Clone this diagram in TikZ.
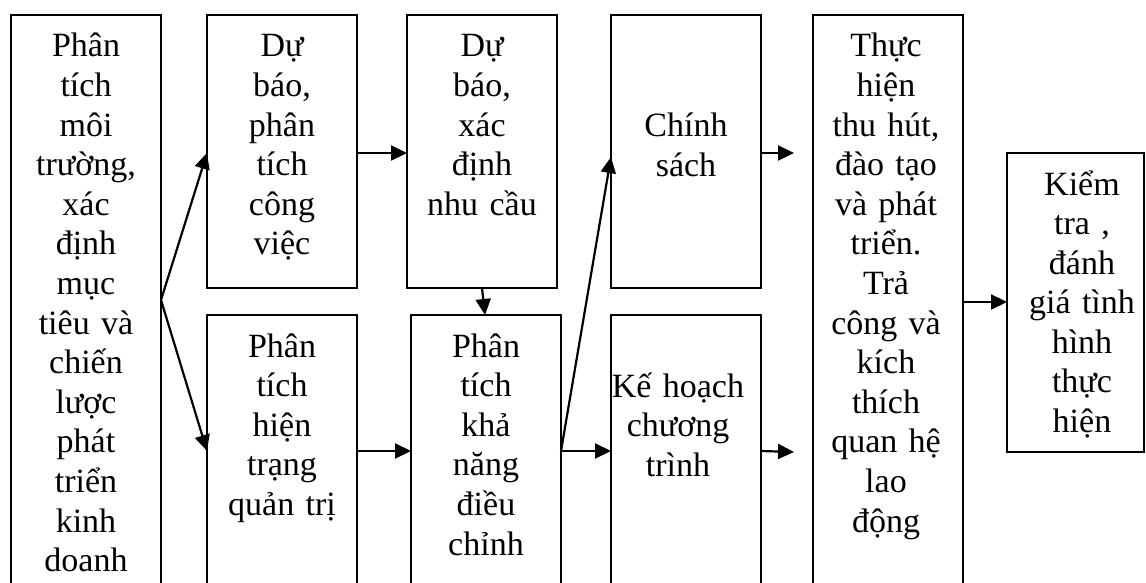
\documentclass[tikz,border=0pt]{standalone}
\usepackage{fontspec}
\setmainfont{Liberation Serif}
\usetikzlibrary{arrows.meta}
\begin{document}
\begin{tikzpicture}[x=1pt,y=-1pt,
  box/.style={draw,line width=2pt,minimum width=150pt,inner sep=0pt,outer sep=0pt},
  txt/.style={anchor=base,text width=160pt,align=center,inner sep=0pt,
    font=\fontsize{34}{39.6}\selectfont},
  arr/.style={line width=2.2pt,-{Triangle[length=16pt,width=15pt]}}]
\useasboundingbox (0,0) rectangle (1146,583);
\fill[white] (0,0) rectangle (1146,583);
\clip (0,0) rectangle (1146,583);
% boxes
\node[box,minimum height=625pt] (b1) at (86,327.5) {};
\node[box,minimum height=273pt] (b2) at (282,151.5) {};
\node[box,minimum height=325pt] (b3) at (282,477.5) {};
\node[box,minimum height=273pt] (b4) at (482,151.5) {};
\node[box,minimum height=325pt] (b5) at (486,477.5) {};
\node[box,minimum height=273pt] (b6) at (686,151.5) {};
\node[box,minimum height=325pt] (b7) at (686,477.5) {};
\node[box,minimum height=625pt] (b8) at (888,327.5) {};
\node[box,minimum width=137pt,minimum height=299pt] (b9) at (1075.5,302.5) {};
% texts
\node[txt] (t1) at (86,57) {Phân\\tích\\môi\\trường,\\xác\\định\\mục\\tiêu và\\chiến\\lược\\phát\\triển\\kinh\\doanh};
\node[txt] (t2) at (282,57) {Dự\\báo,\\phân\\tích\\công\\việc};
\node[txt] (t3) at (282,357) {Phân\\tích\\hiện\\trạng\\quản trị};
\node[txt] (t4) at (482,57) {Dự\\báo,\\xác\\định\\nhu cầu};
\node[txt] (t5) at (486,357) {Phân\\tích\\khả\\năng\\điều\\chỉnh};
\node[txt] (t6) at (686,137) {Chính\\sách};
\node[txt] (t7) at (678,397) {Kế hoạch\\chương\\trình};
\node[txt] (t8) at (886,57) {Thực\\hiện\\thu hút,\\đào tạo\\và phát\\triển.\\Trả\\công và\\kích\\thích\\quan hệ\\lao\\động};
\node[txt] (t9) at (1082,195) {Kiểm\\tra ,\\đánh\\giá tình\\hình\\thực\\hiện};
% helper levels
\coordinate (yA) at (0,153);
\coordinate (yB) at (0,451);
\coordinate (yF) at (0,300);
\coordinate (yG) at (0,157);
\coordinate (yH) at (0,302);
\coordinate (e6) at (794,153);
\coordinate (e7) at (794,452);
\coordinate (d4) at (482,288);
\coordinate (d5) at (485,315);
% connectors
\draw[arr] (b1.east |- yF) -- (b2.west |- yA);
\draw[arr] (b1.east |- yF) -- (b3.west |- yB);
\draw[arr] (b2.east |- yA) -- (b4.west |- yA);
\draw[arr] (b3.east |- yB) -- (b5.west |- yB);
\draw[arr] (d4) -- (d5);
\draw[arr] (b5.east |- yB) -- (b6.west |- yG);
\draw[arr] (b5.east |- yB) -- (b7.west |- yB);
\draw[arr] (b6.east |- yA) -- (e6);
\draw[arr] (b7.east |- yB) -- (e7);
\draw[arr] (b8.east |- yH) -- (b9.west |- yH);
\end{tikzpicture}
\end{document}
